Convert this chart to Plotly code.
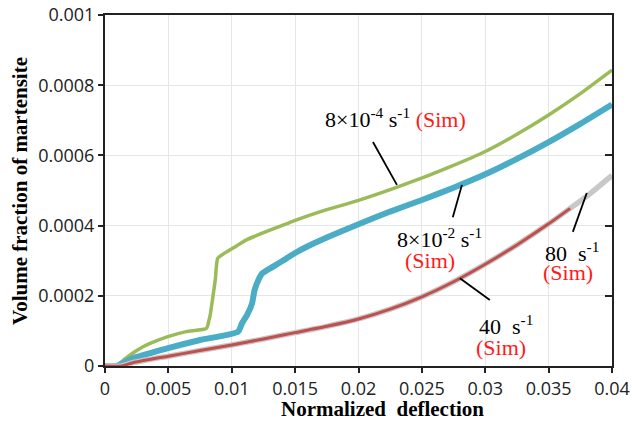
import plotly.graph_objects as go

# ---- data ----
green_x = [0, 0.001, 0.0015, 0.0022, 0.003, 0.0036, 0.0049, 0.0064, 0.0080, 0.0082, 0.0083, 0.0084,
           0.0087, 0.0089, 0.0095, 0.0101, 0.0112, 0.0128, 0.0143, 0.015, 0.017, 0.020, 0.023,
           0.0256, 0.0272, 0.030, 0.0325, 0.035, 0.0375, 0.040]
green_y = [0, 0.000003, 0.000018, 0.000037, 0.000055, 0.000065, 0.000083, 0.000098, 0.000107,
           0.00013, 0.000145, 0.000169, 0.000245, 0.000307, 0.000323, 0.000336, 0.00036,
           0.000384, 0.000405, 0.000415, 0.00044, 0.000472, 0.000509, 0.000544, 0.000567,
           0.000611, 0.00066, 0.000715, 0.000776, 0.000843]

blue_x = [0, 0.0009, 0.0022, 0.0049, 0.0075, 0.0105, 0.0108, 0.0112, 0.0116, 0.0118, 0.0121,
          0.0124, 0.0133, 0.0143, 0.015, 0.016, 0.0175, 0.020, 0.0225, 0.025, 0.0275, 0.030,
          0.0325, 0.035, 0.0375, 0.040]
blue_y = [0, 0, 0.000022, 0.00005, 0.000074, 0.000098, 0.000121, 0.000145, 0.000178, 0.000216,
          0.000245, 0.000264, 0.000284, 0.000306, 0.000322, 0.000341, 0.000366, 0.000404,
          0.00044, 0.000473, 0.000508, 0.000546, 0.00059, 0.000638, 0.00069, 0.000745]

red_x = [0, 0.0013, 0.0022, 0.005, 0.0075, 0.010, 0.0125, 0.015, 0.0175, 0.020, 0.0225, 0.025,
         0.0275, 0.030, 0.0325, 0.035, 0.0367]
red_y = [0, 0, 0.0000095, 0.000028, 0.000044, 0.00006, 0.000077, 0.000095, 0.000113, 0.000134,
         0.000162, 0.000197, 0.00024, 0.00029, 0.000345, 0.000405, 0.000449]

grey_x = red_x + [0.0383, 0.040]
grey_y = red_y + [0.000492, 0.000543]

x_ticks = [0, 0.005, 0.01, 0.015, 0.02, 0.025, 0.03, 0.035, 0.04]
x_tick_labels = ["0", "0.005", "0.01", "0.015", "0.02", "0.025", "0.03", "0.035", "0.04"]
y_ticks = [0, 0.0002, 0.0004, 0.0006, 0.0008, 0.001]
y_tick_labels = ["0", "0.0002", "0.0004", "0.0006", "0.0008", "0.001"]

x_title = "Normalized&nbsp;&nbsp;deflection"
y_title = "Volume fraction of martensite"

RED = "#ff1a1a"
# label text, label position (data units)
labels = [
    ("8×10<sup>-4</sup> s<sup>-1</sup> <span style='color:%s'>(Sim)</span>" % RED, 0.02295, 0.000707),
    ("8×10<sup>-2</sup> s<sup>-1</sup>", 0.02642, 0.000365),
    ("<span style='color:%s'>(Sim)</span>" % RED, 0.02563, 0.000302),
    ("40&nbsp;&nbsp;s<sup>-1</sup>", 0.03162, 0.000117),
    ("<span style='color:%s'>(Sim)</span>" % RED, 0.03123, 0.000054),
    ("80&nbsp;&nbsp;s<sup>-1</sup>", 0.03683, 0.000325),
    ("<span style='color:%s'>(Sim)</span>" % RED, 0.03651, 0.000265),
]
# pointer start/end (data units)
pointers = [
    (0.02114, 0.000638, 0.02303, 0.000516),
    (0.02744, 0.000424, 0.02816, 0.000516),
    (0.03036, 0.000188, 0.0280, 0.00025),
    (0.03691, 0.000382, 0.03801, 0.000493),
]

fig = go.Figure()
common = dict(mode="lines", showlegend=False, line_shape="spline", line_smoothing=0.6)
fig.add_trace(go.Scatter(x=green_x, y=green_y, line=dict(color="#9bbb59", width=3.5), **common))
fig.add_trace(go.Scatter(x=blue_x, y=blue_y, line=dict(color="#4bacc6", width=6), **common))
fig.add_trace(go.Scatter(x=grey_x, y=grey_y, line=dict(color="#c8c8c8", width=5.5), **common))
fig.add_trace(go.Scatter(x=red_x, y=red_y, line=dict(color="#c0504d", width=3), **common))
fig.add_trace(go.Scatter(x=[], y=[], yaxis="y2", showlegend=False, hoverinfo="skip"))

for x0, y0, x1, y1 in pointers:
    fig.add_shape(type="line", x0=x0, y0=y0, x1=x1, y1=y1, xref="x", yref="y",
                  line=dict(color="black", width=1.8))

for txt, lx, ly in labels:
    fig.add_annotation(text=txt, x=lx, y=ly, xref="x", yref="y", showarrow=False,
                       xanchor="center", yanchor="middle",
                       font=dict(family="Liberation Serif", size=22, color="black"))

title_font = dict(family="Liberation Serif", size=21, color="black")
fig.add_annotation(text="<b>" + x_title + "</b>", x=0.5464, y=-0.1225, xref="paper", yref="paper",
                   showarrow=False, xanchor="center", yanchor="middle", font=title_font)
fig.add_annotation(text="<b>" + y_title + "</b>", x=-0.1686, y=0.497, xref="paper", yref="paper",
                   showarrow=False, xanchor="center", yanchor="middle", textangle=-90,
                   font=title_font)

tick_font = dict(family="Open Sans", size=18, color="#222222")
fig.update_layout(
    width=632, height=423,
    margin=dict(l=105, r=20, t=15, b=57, autoexpand=False),
    paper_bgcolor="white", plot_bgcolor="white",
    xaxis=dict(range=[0, 0.04], tickmode="array", tickvals=x_ticks, ticktext=x_tick_labels,
               showgrid=True, gridcolor="#e6e6e6", gridwidth=1, zeroline=False,
               showline=True, linecolor="#222222", linewidth=2, mirror=True,
               ticks="outside", ticklen=5, tickcolor="#222222", tickwidth=1.5,
               tickfont=tick_font, automargin=False),
    yaxis=dict(range=[0, 0.001], tickmode="array", tickvals=y_ticks, ticktext=y_tick_labels,
               showgrid=True, gridcolor="#e6e6e6", gridwidth=1, zeroline=False,
               showline=True, linecolor="#222222", linewidth=2,
               ticks="outside", ticklen=5, tickcolor="#222222", tickwidth=1.5,
               tickfont=tick_font, automargin=False),
    yaxis2=dict(range=[0, 0.001], overlaying="y", side="right", tickmode="array",
                tickvals=y_ticks, showticklabels=False, showgrid=False, zeroline=False,
                showline=True, linecolor="#222222", linewidth=2, automargin=False,
                ticks="inside", ticklen=7, tickcolor="#222222", tickwidth=1.5),
)

fig.write_html("out.html")
